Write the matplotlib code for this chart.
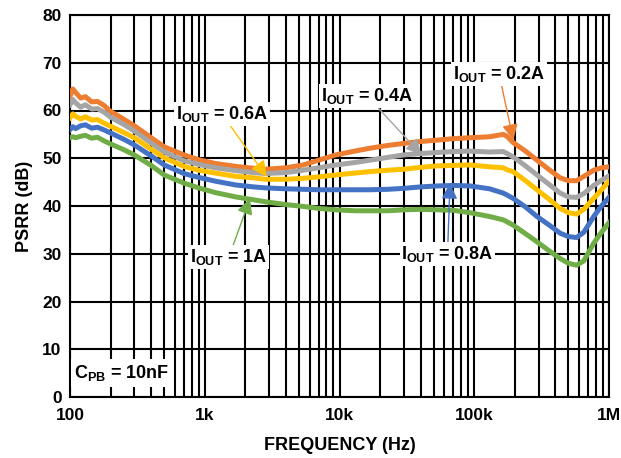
import numpy as np
import matplotlib
matplotlib.use("Agg")
import matplotlib.pyplot as plt
from matplotlib.ticker import LogLocator, FixedLocator, FixedFormatter, NullFormatter

plt.rcParams["font.family"] = ["Liberation Sans", "DejaVu Sans"]
plt.rcParams["font.weight"] = "bold"
plt.rcParams["mathtext.fontset"] = "custom"
plt.rcParams["mathtext.rm"] = "Liberation Sans:bold"
plt.rcParams["mathtext.bf"] = "Liberation Sans:bold"
plt.rcParams["mathtext.default"] = "bf"

# frequency points (Hz)
freq = [100, 105, 110, 120, 130, 145, 160, 180, 200, 250, 300, 400, 500, 700, 900,
        1200, 1700, 2300, 2800, 4000, 5400, 7000, 9400, 13000, 16800, 23000, 30000,
        40000, 53000, 70000, 93000, 130000, 164000, 175000, 194000, 240000, 292000,
        360000, 434000, 500000, 575000, 650000, 770000, 880000, 1000000]

psrr_02 = [63.0, 64.5, 63.8, 62.6, 62.9, 61.8, 61.9, 61.0, 59.8, 58.2, 56.8, 54.3, 52.4, 50.7, 49.7,
           48.9, 48.3, 47.9, 47.7, 48.0, 48.6, 49.6, 50.7, 51.5, 52.1, 52.7, 53.1,
           53.5, 53.8, 54.1, 54.3, 54.5, 55.0, 54.6, 53.3, 51.5, 49.6,
           47.6, 45.9, 45.3, 45.3, 46.2, 47.5, 48.0, 48.2]
psrr_04 = [61.2, 62.3, 61.6, 60.7, 61.2, 60.3, 60.4, 59.6, 58.6, 57.1, 55.7, 53.2, 51.3, 49.5, 48.7,
           48.0, 47.4, 47.0, 46.8, 47.0, 47.5, 48.0, 48.6, 49.1, 49.6, 50.2, 50.7,
           51.0, 51.2, 51.4, 51.5, 51.3, 51.4, 51.0, 50.3, 48.4, 46.5,
           44.5, 42.7, 41.9, 41.8, 42.6, 44.3, 45.4, 46.3]
psrr_06 = [58.5, 59.3, 58.8, 58.2, 58.7, 58.0, 58.1, 57.3, 56.7, 55.4, 54.3, 51.9, 50.1, 48.3, 47.5,
           46.9, 46.2, 45.9, 45.6, 45.6, 45.8, 46.1, 46.5, 46.9, 47.2, 47.5, 47.7,
           48.1, 48.4, 48.5, 48.6, 48.2, 48.0, 47.6, 47.2, 45.3, 43.4,
           41.4, 39.5, 38.6, 38.3, 39.3, 41.6, 43.4, 45.2]
psrr_08 = [56.0, 56.6, 56.2, 56.8, 57.0, 56.3, 56.5, 55.9, 55.3, 54.0, 52.8, 50.5, 48.6, 46.8, 46.0,
           45.2, 44.4, 44.0, 43.8, 43.6, 43.5, 43.4, 43.4, 43.4, 43.4, 43.5, 43.7,
           44.0, 44.2, 44.3, 44.2, 43.6, 42.7, 42.3, 41.6, 39.8, 37.8,
           36.0, 34.3, 33.6, 33.4, 34.5, 37.8, 40.0, 41.8]
psrr_10 = [54.3, 54.5, 54.3, 54.6, 54.8, 54.2, 54.4, 53.6, 53.0, 51.8, 50.7, 48.5, 46.5, 44.8, 43.8,
           42.8, 41.9, 41.3, 40.9, 40.3, 39.9, 39.5, 39.2, 39.0, 39.0, 39.0, 39.2,
           39.3, 39.2, 39.1, 38.6, 37.8, 37.1, 36.7, 36.0, 34.2, 32.5,
           30.6, 29.0, 28.0, 27.6, 28.5, 32.2, 34.5, 36.5]

series = [
    (psrr_02, "#ED7D31"),
    (psrr_04, "#A5A5A5"),
    (psrr_06, "#FFC000"),
    (psrr_08, "#4472C4"),
    (psrr_10, "#70AD47"),
]

# label text, text position, arrow tip, colour
labels = [
    ("0.2A", (1.53e5, 67.6), (1.95e5, 53.8), "#ED7D31"),
    ("0.4A", (1.61e4, 63.0), (4.07e4, 50.7), "#A5A5A5"),
    ("0.6A", (1.34e3, 59.3), (2.88e3, 46.1), "#FFC000"),
    ("0.8A", (6.33e4, 29.9), (6.61e4, 44.8), "#4472C4"),
    ("1A", (1.51e3, 29.3), (2.17e3, 41.6), "#70AD47"),
]

fig = plt.figure(figsize=(6.21, 4.58), dpi=100)
ax = fig.add_axes([70 / 621, 61 / 458, 539 / 621, 382 / 458])

for vals, color in series:
    ax.plot(freq, vals, color=color, linewidth=3.6, zorder=3)

ax.set_xscale("log")
ax.set_xlim(100, 1e6)
ax.set_ylim(0, 80)
ax.set_yticks(np.arange(0, 81, 10))
ax.xaxis.set_major_locator(FixedLocator([1e2, 1e3, 1e4, 1e5, 1e6]))
ax.xaxis.set_major_formatter(FixedFormatter(["100", "1k", "10k", "100k", "1M"]))
ax.xaxis.set_minor_locator(LogLocator(base=10, subs=np.arange(2, 10), numticks=20))
ax.xaxis.set_minor_formatter(NullFormatter())

ax.grid(True, which="both", color="black", linewidth=1.5, zorder=1)
ax.set_axisbelow(True)
ax.tick_params(which="both", length=0, labelsize=12.5)
ax.tick_params(axis="x", pad=8)
ax.tick_params(axis="y", pad=6)
for spine in ax.spines.values():
    spine.set_linewidth(1.5)
    spine.set_color("black")

ax.set_xlabel("FREQUENCY (Hz)", fontsize=13, fontweight="bold", labelpad=10)
ax.set_ylabel("PSRR (dB)", fontsize=13, fontweight="bold", labelpad=7)

for val, txt_pos, tip, color in labels:
    ax.annotate(r"I$_{OUT}$ = " + val, xy=tip, xytext=txt_pos,
                ha="center", va="center", fontsize=13, fontweight="bold",
                bbox=dict(boxstyle="square,pad=0.1", facecolor="white", edgecolor="none"),
                arrowprops=dict(arrowstyle="-|>", color=color, lw=1.0, mutation_scale=24,
                                shrinkA=0, shrinkB=0),
                zorder=5)

ax.text(0.008, 0.063, r"C$_{PB}$ = 10nF", transform=ax.transAxes, ha="left", va="center",
        fontsize=13, fontweight="bold",
        bbox=dict(boxstyle="square,pad=0.2", facecolor="white", edgecolor="none"),
        zorder=5)

fig.savefig("out.png", dpi=100)
plt.close(fig)
